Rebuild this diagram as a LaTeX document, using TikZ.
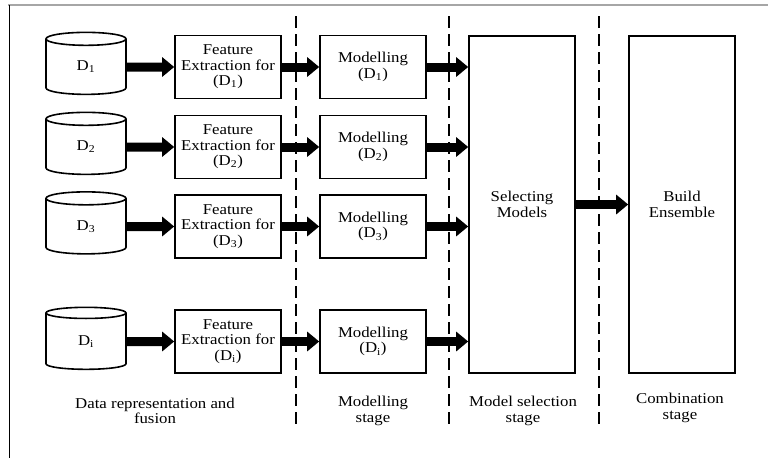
\documentclass[tikz,border=0pt]{standalone}
\usepackage{fontspec}
\setmainfont{Liberation Serif}[FakeStretch=1.12]
\usepackage{tikz}
\usetikzlibrary{arrows.meta,shapes.geometric}
\tikzset{every picture/.style={line width=1.6pt}}

\begin{document}
\begin{tikzpicture}[
    x=1pt, y=1pt,
    font=\fontsize{15}{15.5}\selectfont,
    dbase/.style={
        cylinder, shape border rotate=90, aspect=0.7, draw,
        minimum width=80pt, minimum height=62pt, inner sep=0pt
    },
    procbox/.style={
        rectangle, draw, align=center, inner sep=0pt,
        minimum width=106pt, minimum height=63pt
    },
    tallbox/.style={
        rectangle, draw, align=center, inner sep=0pt,
        minimum width=106pt, minimum height=337pt
    },
    fatarrow/.style={
        line width=9pt, -{Triangle[length=12pt, width=19pt]}
    },
    stagesep/.style={line width=1.8pt, dash pattern=on 12pt off 6pt},
    stagelbl/.style={align=center, inner sep=0pt},
]

\useasboundingbox (0,0) rectangle (768,-458);

%% frame (top and left edge only)
\draw[gray!70, line width=2pt] (8,-5) -- (768,-5);
\draw[line width=0.8pt] (9,-5) -- (9,-458);

%% ===================== STAGE SEPARATORS =====================
\coordinate (s1t) at (296,-16);  \coordinate (s1b) at (296,-428);
\coordinate (s2t) at (449,-16);  \coordinate (s2b) at (449,-428);
\coordinate (s3t) at (599,-16);  \coordinate (s3b) at (599,-428);
\draw[stagesep] (s1t) -- (s1b);
\draw[stagesep] (s2t) -- (s2b);
\draw[stagesep] (s3t) -- (s3b);

%% ===================== RIGHT-HAND BLOCKS =====================
\node[tallbox] (sel) at (522,-204.5) {Selecting\\Models};
\node[tallbox] (ens) at (682,-204.5) {Build\\Ensemble};

%% ===================== ONE ROW PER DATA SOURCE =====================
\foreach \r/\y/\s in {1/67/1, 2/147/2, 3/226.5/3, 4/341.5/i} {
  \node[dbase] (db\r) at (86,-\y) {D\textsubscript{\s}};
  \node[procbox] (fe\r) at (228,-\y) {Feature\\Extraction for\\(D\textsubscript{\s})};
  \node[procbox] (md\r) at (373,-\y) {Modelling\\(D\textsubscript{\s})};
  \draw[fatarrow] (db\r.east) -- (fe\r.west);
  \draw[fatarrow] (fe\r.east) -- (md\r.west);
  \draw[fatarrow] (md\r.east) -- (md\r.east -| sel.west);
}

\draw[fatarrow] (sel.east) -- (ens.west);

%% ===================== STAGE LABELS =====================
\node[stagelbl] (l1) at (155,-411) {Data representation and\\fusion};
\node[stagelbl] (l2) at (373,-411) {Modelling\\stage};
\node[stagelbl] (l3) at (523,-411) {Model selection\\stage};
\node[stagelbl] (l4) at (680,-408) {Combination\\stage};

\end{tikzpicture}
\end{document}
